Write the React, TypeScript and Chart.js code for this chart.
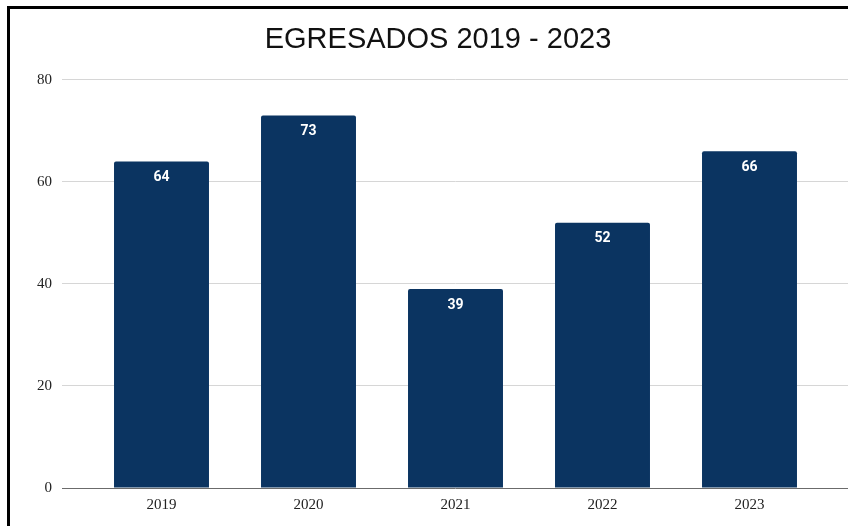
import React, { useEffect, useRef } from "react";
import { Chart, registerables } from "chart.js";

Chart.register(...registerables);

const TITLE = "EGRESADOS 2019 - 2023";
const CATEGORIES = ["2019", "2020", "2021", "2022", "2023"];
const VALUES = [64, 73, 39, 52, 66];
const Y_MIN = 0;
const Y_MAX = 80;
const Y_STEP = 20;

const BAR_COLOR = "#0b3461";
const GRID_COLOR = "#d6d6d6";
const BASE_COLOR = "#6b6b6b";

const dataLabelPlugin = {
  id: "dataLabels",
  afterDatasetsDraw(chart: any) {
    const ctx = chart.ctx;
    const meta = chart.getDatasetMeta(0);
    ctx.save();
    ctx.fillStyle = "#ffffff";
    ctx.font = "bold 14px Roboto, 'Noto Sans', sans-serif";
    ctx.textAlign = "center";
    ctx.textBaseline = "middle";
    meta.data.forEach((bar: any, i: number) => {
      ctx.fillText(String(VALUES[i]), bar.x, bar.y + 16);
    });
    ctx.restore();
  },
};

export default function App() {
  const ref = useRef<HTMLCanvasElement>(null);

  useEffect(() => {
    if (!ref.current) return;
    const gridColor = (c: any) => (c.tick && c.tick.value === 0 ? BASE_COLOR : GRID_COLOR);
    const chart = new Chart(ref.current, {
      type: "bar",
      data: {
        labels: CATEGORIES,
        datasets: [
          {
            data: VALUES,
            backgroundColor: BAR_COLOR,
            categoryPercentage: 1,
            barPercentage: 0.646,
            borderRadius: { topLeft: 2, topRight: 2, bottomLeft: 0, bottomRight: 0 },
            borderSkipped: "start",
          },
        ],
      },
      options: {
        responsive: false,
        animation: false,
        devicePixelRatio: 1,
        layout: { padding: { left: 28, right: 0, top: 0, bottom: 0 } },
        plugins: {
          legend: { display: false },
          tooltip: { enabled: false },
          title: {
            display: true,
            text: TITLE,
            color: "#111",
            font: { family: "'Liberation Sans', Arial, sans-serif", size: 29, weight: "normal", lineHeight: 1.2 },
            padding: { top: 23, bottom: 22 },
          },
        },
        scales: {
          x: {
            grid: { display: false, drawTicks: false },
            border: { display: false },
            ticks: {
              color: "#222",
              padding: 8,
              font: { family: "'Liberation Serif', 'Times New Roman', serif", size: 15 },
            },
            afterFit: (s: any) => {
              s.height = 38;
            },
          },
          y: {
            position: "left",
            min: Y_MIN,
            max: Y_MAX,
            border: { display: false },
            grid: {
              color: gridColor,
              tickColor: gridColor,
              drawTicks: true,
              tickLength: 26,
              lineWidth: 1,
            },
            ticks: {
              stepSize: Y_STEP,
              color: "#222",
              padding: 10,
              font: { family: "'Liberation Serif', 'Times New Roman', serif", size: 15 },
            },
            afterFit: (s: any) => {
              s.width = 60;
            },
          },
          y2: {
            position: "right",
            min: Y_MIN,
            max: Y_MAX,
            border: { display: false },
            grid: {
              drawOnChartArea: false,
              color: gridColor,
              tickColor: gridColor,
              drawTicks: true,
              tickLength: 25,
            },
            ticks: { stepSize: Y_STEP, display: false },
            afterFit: (s: any) => {
              s.width = 25;
            },
          },
        },
      },
      plugins: [dataLabelPlugin],
    });
    return () => chart.destroy();
  }, []);

  return (
    <div style={{ position: "fixed", left: 0, top: 0, width: 848, height: 526, background: "#fff" }}>
      <canvas ref={ref} width={848} height={526} style={{ position: "absolute", left: 0, top: 0 }} />
      <div
        style={{
          position: "absolute",
          left: 7,
          top: 6,
          right: 0,
          bottom: 0,
          borderLeft: "3px solid #000",
          borderTop: "3px solid #000",
          pointerEvents: "none",
        }}
      />
    </div>
  );
}
